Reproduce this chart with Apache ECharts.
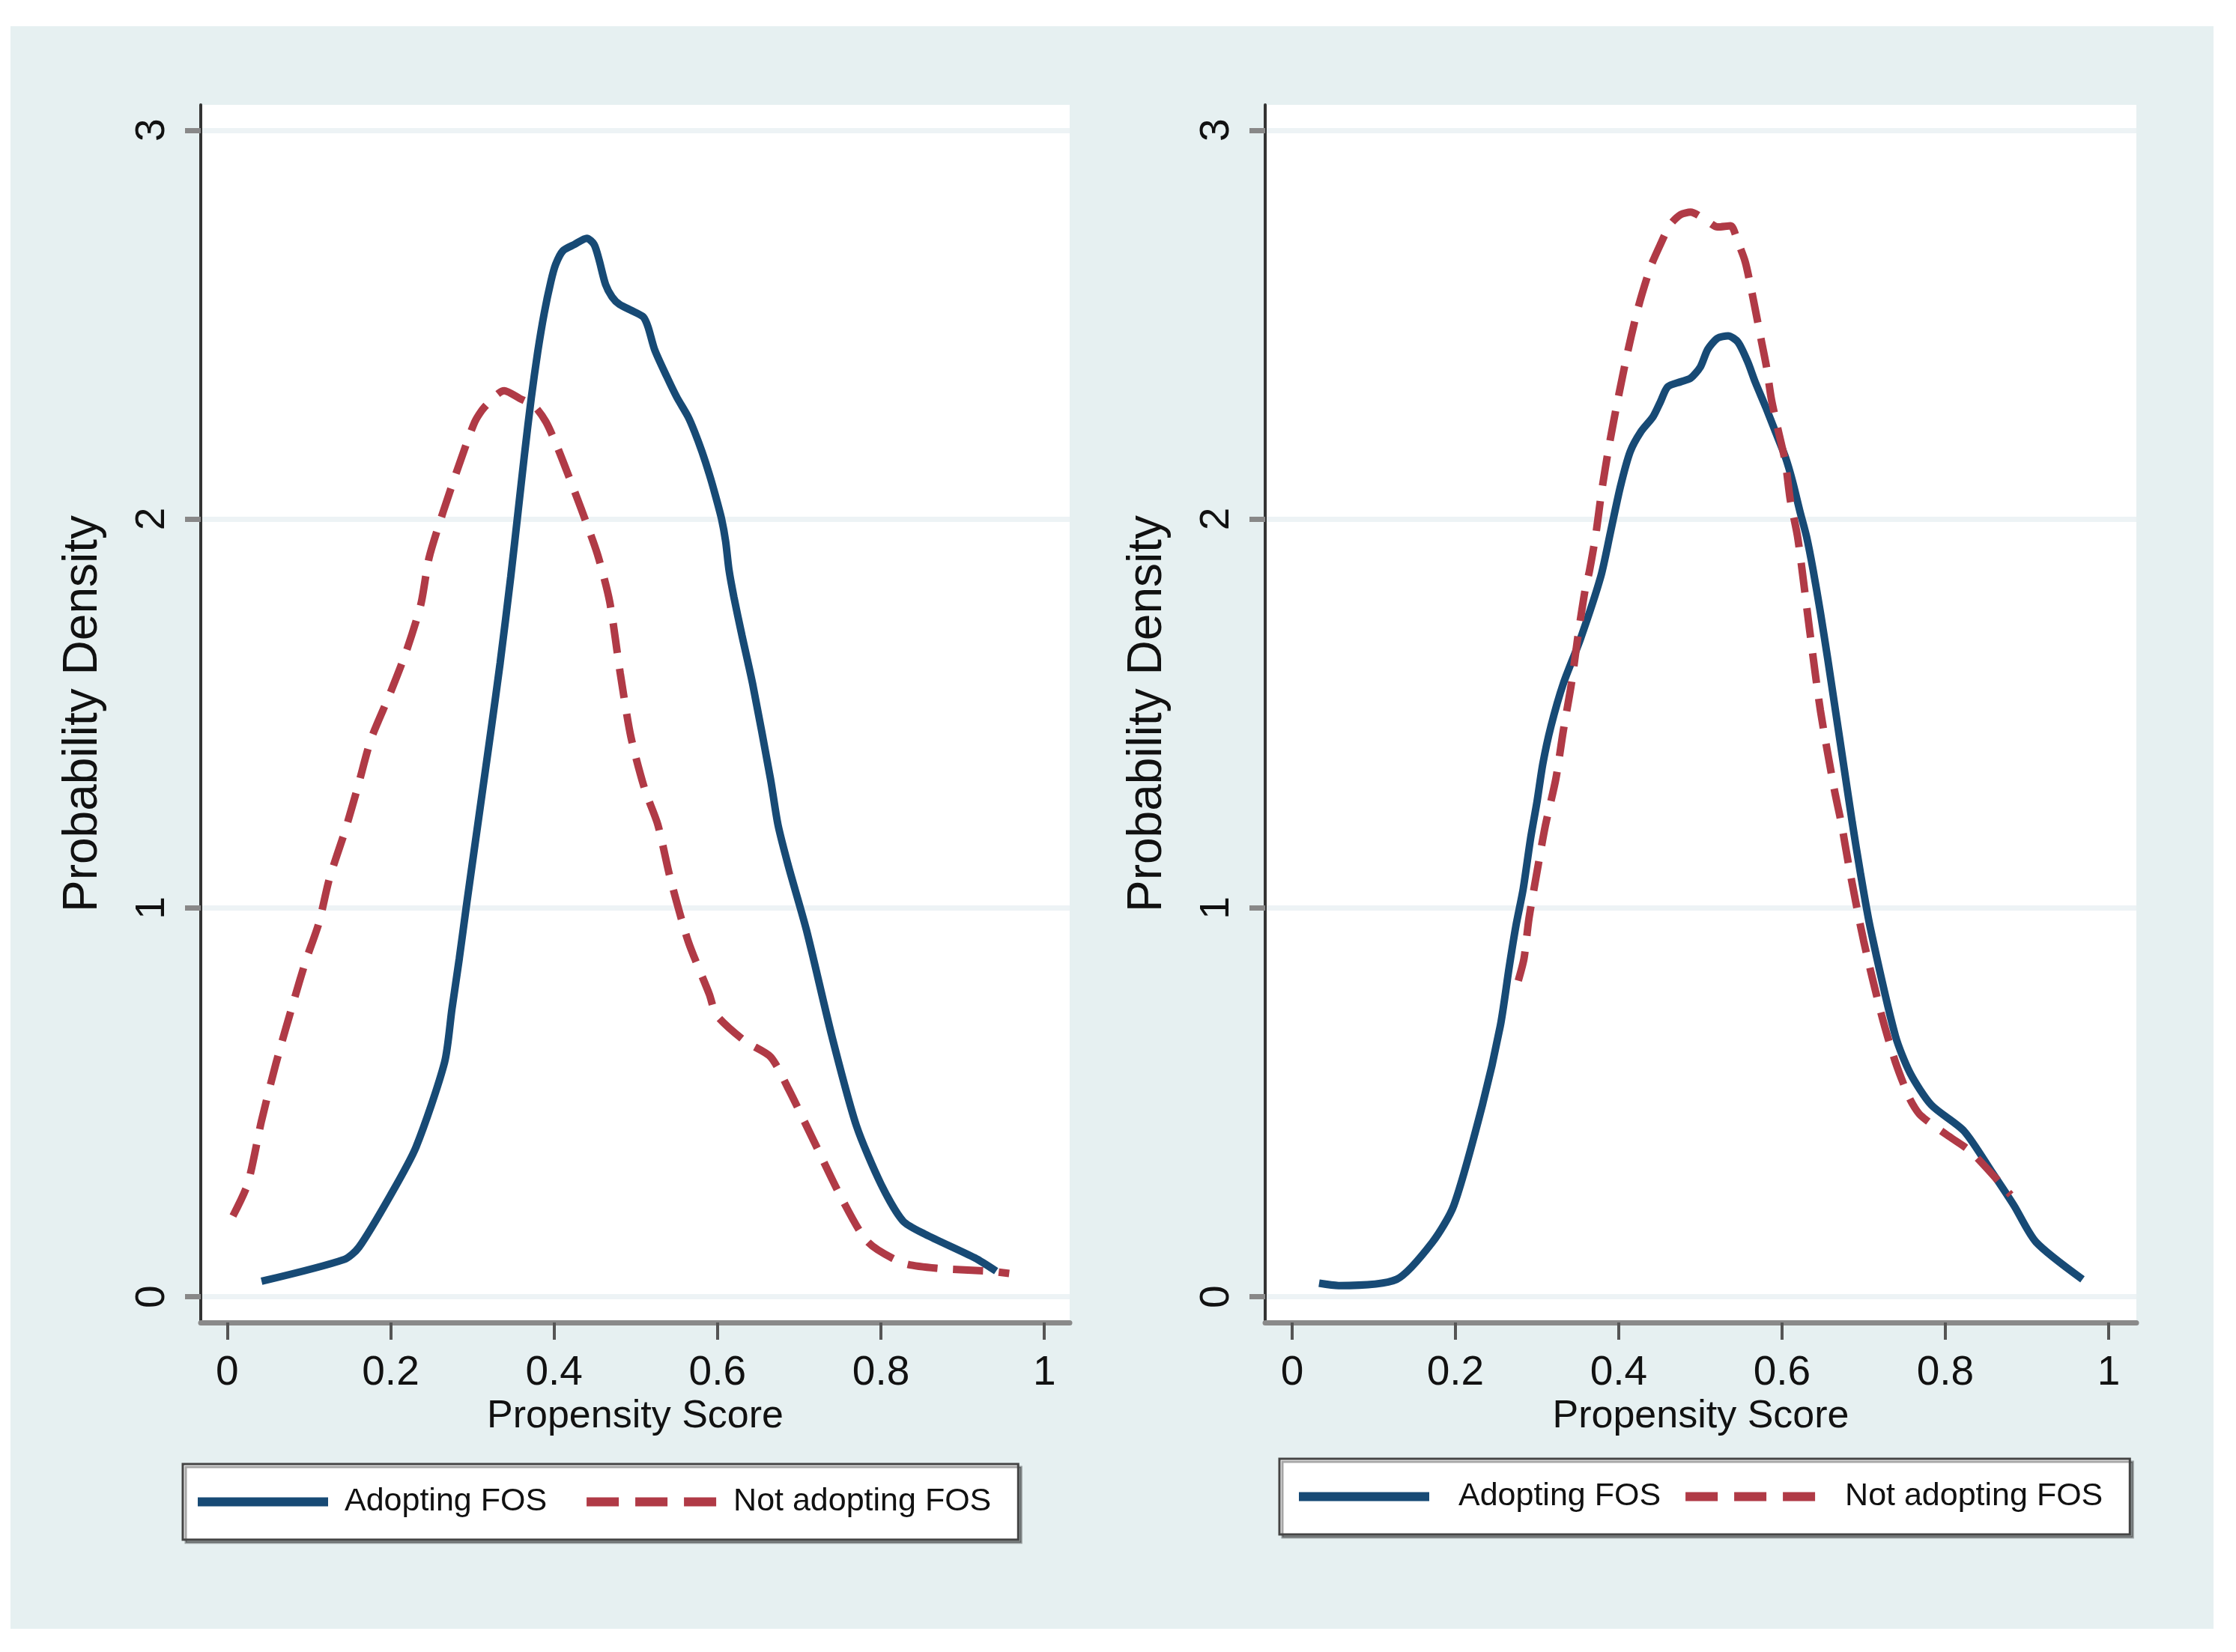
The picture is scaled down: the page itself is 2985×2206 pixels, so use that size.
<!DOCTYPE html>
<html>
<head>
<meta charset="utf-8">
<script src="https://cdn.jsdelivr.net/npm/echarts@6/dist/echarts.min.js"></script>
<style>
html,body{margin:0;padding:0;background:#fff}
#chart{width:2985px;height:2206px}
</style>
</head>
<body>
<div id="chart"></div>
<script>
var xTicks = [0, 0.2, 0.4, 0.6, 0.8, 1];
var yTicks = [0, 1, 2, 3];
var seriesNames = ['Adopting FOS', 'Not adopting FOS'];
var xTitle = 'Propensity Score';
var yTitle = 'Probability Density';

// left panel
var leftAdoptX = [0.042,0.143,0.161,0.200,0.231,0.266,0.275,0.284,0.293,0.303,0.313,0.323,0.334,0.347,0.356,0.364,0.372,0.380,0.388,0.396,0.402,0.411,0.425,0.440,0.449,0.455,0.463,0.471,0.480,0.495,0.509,0.515,0.523,0.538,0.550,0.564,0.572,0.581,0.590,0.597,0.605,0.610,0.614,0.620,0.630,0.643,0.665,0.674,0.687,0.709,0.740,0.770,0.800,0.827,0.854,0.915,0.941];
var leftAdoptY = [0.040,0.096,0.127,0.262,0.385,0.603,0.740,0.870,1.010,1.160,1.310,1.460,1.630,1.852,2.020,2.170,2.310,2.430,2.530,2.610,2.655,2.690,2.706,2.722,2.706,2.667,2.603,2.571,2.552,2.536,2.520,2.494,2.436,2.366,2.314,2.263,2.224,2.173,2.115,2.064,2.000,1.942,1.870,1.800,1.700,1.576,1.330,1.214,1.106,0.942,0.670,0.440,0.290,0.195,0.161,0.100,0.066];
var leftNotX = [0.007,0.025,0.042,0.060,0.082,0.096,0.112,0.125,0.144,0.160,0.176,0.199,0.219,0.237,0.247,0.264,0.283,0.303,0.315,0.339,0.358,0.376,0.390,0.403,0.418,0.433,0.453,0.468,0.481,0.494,0.511,0.527,0.542,0.564,0.590,0.599,0.634,0.665,0.687,0.718,0.753,0.784,0.827,0.871,0.933,0.957];
var leftNotY = [0.208,0.290,0.453,0.603,0.765,0.863,0.960,1.075,1.197,1.313,1.434,1.550,1.659,1.781,1.900,2.017,2.135,2.250,2.288,2.330,2.310,2.290,2.250,2.190,2.110,2.027,1.910,1.788,1.603,1.440,1.305,1.214,1.078,0.915,0.778,0.724,0.657,0.617,0.534,0.400,0.249,0.141,0.087,0.073,0.066,0.060];

// right panel
var rightAdoptX = [0.033,0.057,0.128,0.172,0.198,0.233,0.255,0.266,0.274,0.283,0.292,0.300,0.307,0.317,0.332,0.353,0.378,0.390,0.402,0.414,0.427,0.442,0.451,0.460,0.476,0.488,0.500,0.509,0.521,0.534,0.546,0.558,0.567,0.580,0.592,0.604,0.613,0.622,0.630,0.638,0.647,0.656,0.666,0.676,0.686,0.696,0.708,0.739,0.757,0.783,0.823,0.858,0.884,0.911,0.968];
var rightAdoptY = [0.035,0.029,0.045,0.141,0.235,0.493,0.697,0.850,0.953,1.049,1.178,1.274,1.370,1.467,1.576,1.691,1.852,1.967,2.083,2.173,2.224,2.263,2.301,2.340,2.353,2.362,2.391,2.436,2.465,2.471,2.455,2.404,2.353,2.288,2.224,2.160,2.096,2.019,1.955,1.870,1.760,1.640,1.500,1.360,1.220,1.090,0.950,0.670,0.575,0.493,0.426,0.318,0.235,0.141,0.045];
var rightNotX = [0.277,0.284,0.290,0.300,0.310,0.323,0.332,0.342,0.350,0.359,0.364,0.372,0.379,0.388,0.399,0.411,0.424,0.439,0.451,0.463,0.476,0.488,0.506,0.521,0.537,0.546,0.555,0.563,0.569,0.575,0.581,0.587,0.595,0.604,0.610,0.619,0.626,0.634,0.647,0.664,0.673,0.682,0.700,0.722,0.739,0.757,0.770,0.805,0.832,0.880];
var rightNotY = [0.813,0.870,0.972,1.094,1.210,1.332,1.454,1.576,1.698,1.820,1.865,1.961,2.070,2.186,2.308,2.430,2.545,2.648,2.706,2.757,2.783,2.789,2.770,2.751,2.754,2.712,2.661,2.584,2.520,2.455,2.391,2.308,2.231,2.147,2.051,1.955,1.845,1.711,1.508,1.305,1.214,1.106,0.915,0.724,0.603,0.507,0.466,0.412,0.372,0.262];

var FONT = '"Liberation Sans", Arial, sans-serif';
var BLUE = '#174a75';
var RED = '#b03a46';
var GRIDLINE = '#edf3f5';

function pairs(xs, ys) {
  return xs.map(function (x, i) { return [x, ys[i]]; });
}

function xAxisFor(gi, lo, hi) {
  return {
    type: 'value', gridIndex: gi, min: lo, max: hi,
    name: xTitle, nameLocation: 'middle', nameGap: 94,
    nameTextStyle: {fontSize: 52, color: '#111', fontFamily: FONT},
    axisLine: {show: true, onZero: false, lineStyle: {color: '#8a8a8a', width: 7}},
    axisTick: {show: true, customValues: xTicks, length: 23, lineStyle: {color: '#555', width: 4}},
    axisLabel: {customValues: xTicks, margin: 40, fontSize: 55, color: '#111', fontFamily: FONT},
    splitLine: {show: false}
  };
}

function yAxisFor(gi) {
  return {
    type: 'value', gridIndex: gi, min: -0.066, max: 3.065,
    name: yTitle, nameLocation: 'middle', nameGap: 125, nameRotate: 90,
    nameTextStyle: {fontSize: 64, color: '#111', fontFamily: FONT},
    axisLine: {show: true, onZero: false, lineStyle: {color: '#333', width: 4}},
    axisTick: {show: true, customValues: yTicks, length: 21, lineStyle: {color: '#888', width: 7}},
    axisLabel: {customValues: yTicks, rotate: 90, margin: 37, fontSize: 55, color: '#111', fontFamily: FONT},
    splitLine: {show: true, lineStyle: {color: GRIDLINE, width: 7}}
  };
}

function lineSeries(name, gi, xs, ys, color, dashed) {
  return {
    type: 'line', name: name, xAxisIndex: gi, yAxisIndex: gi,
    data: pairs(xs, ys), symbol: 'none', showSymbol: false, smooth: 0.25,
    lineStyle: {color: color, width: 10, type: dashed ? [40, 21] : 'solid'},
    itemStyle: {color: color}
  };
}

function legendAt(left, top, textPad, gap, padLeft) {
  return {
    left: left, top: top, orient: 'horizontal', selectedMode: false,
    itemWidth: 174, itemHeight: 44, itemGap: gap,
    padding: [29, 36, 29, padLeft],
    backgroundColor: '#fff', borderColor: '#444', borderWidth: 3,
    shadowColor: 'rgba(0,0,0,0.35)', shadowOffsetX: 4, shadowOffsetY: 4, shadowBlur: 0,
    textStyle: {fontSize: 43, color: '#111', fontFamily: FONT, padding: [0, 0, 0, textPad]},
    itemStyle: {opacity: 0},
    data: [
      {name: seriesNames[0], itemStyle: {opacity: 0}, lineStyle: {width: 12, type: 'solid'}},
      {name: seriesNames[1], itemStyle: {opacity: 0}, lineStyle: {width: 12, type: [43, 22]}}
    ]
  };
}

var chart = echarts.init(document.getElementById('chart'));
chart.setOption({
  backgroundColor: '#fff',
  animation: false,
  graphic: {elements: [{
    type: 'rect', z: -100, silent: true,
    shape: {x: 14, y: 35, width: 2941, height: 2140},
    style: {fill: '#e6f0f1'}
  }]},
  grid: [
    {left: 268, right: 1557, top: 140, bottom: 440, show: true, backgroundColor: '#fff', borderWidth: 0, containLabel: false, outerBoundsMode: 'none'},
    {left: 1689, right: 133, top: 140, bottom: 440, show: true, backgroundColor: '#fff', borderWidth: 0, containLabel: false, outerBoundsMode: 'none'}
  ],
  xAxis: [xAxisFor(0, -0.0324, 1.031), xAxisFor(1, -0.033, 1.034)],
  yAxis: [yAxisFor(0), yAxisFor(1)],
  legend: [legendAt(244, 1955, 17, 47, 14), legendAt(1708, 1948, 34, 27, 20)],
  series: [
    lineSeries(seriesNames[0], 0, leftAdoptX, leftAdoptY, BLUE, false),
    lineSeries(seriesNames[1], 0, leftNotX, leftNotY, RED, true),
    lineSeries(seriesNames[0], 1, rightAdoptX, rightAdoptY, BLUE, false),
    lineSeries(seriesNames[1], 1, rightNotX, rightNotY, RED, true)
  ]
});
</script>
</body>
</html>
